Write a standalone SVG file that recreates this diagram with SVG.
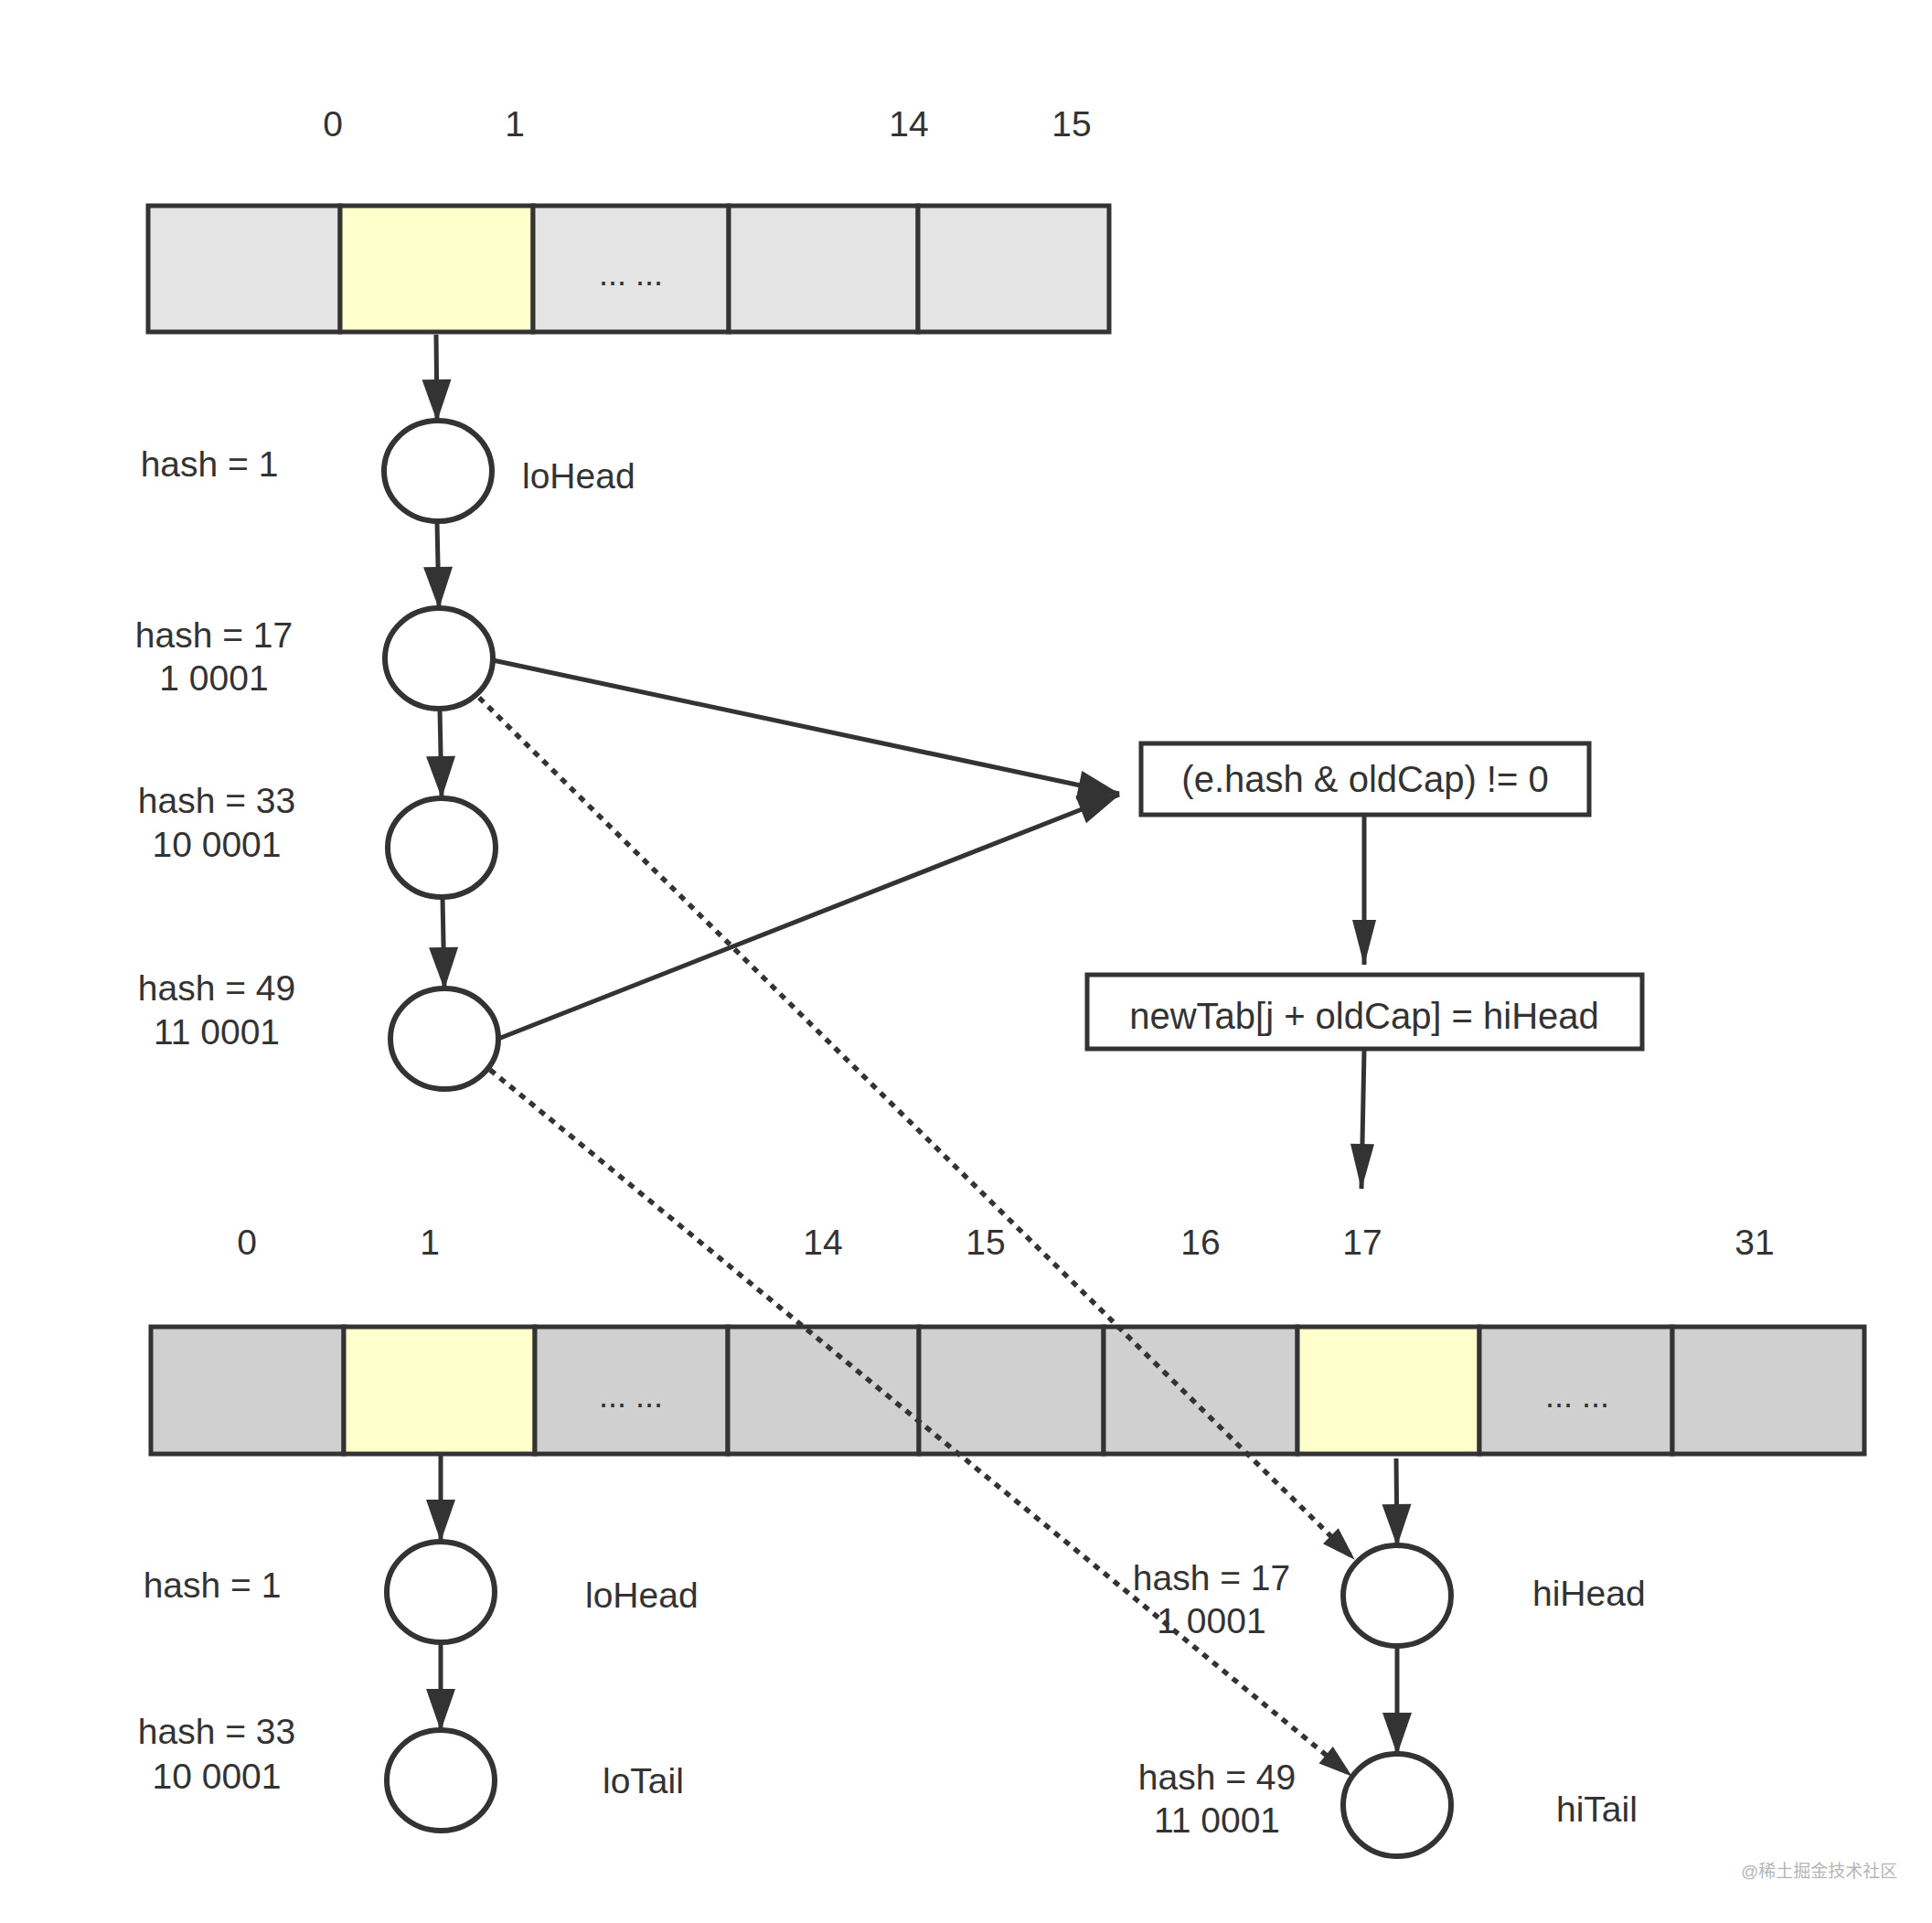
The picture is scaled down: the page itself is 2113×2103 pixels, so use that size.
<svg xmlns="http://www.w3.org/2000/svg" width="2113" height="2103" viewBox="0 0 2113 2103">
<style>
text{font-family:"Liberation Sans",Arial,"Noto Sans CJK SC",sans-serif;font-size:39px;fill:#333}
.c{text-anchor:middle}
.cell{stroke:#333;stroke-width:5}
.g1{fill:#e4e4e4}
.g2{fill:#d0d0d0}
.y{fill:#ffffcc}
.node{fill:#fff;stroke:#333;stroke-width:6}
.box{fill:#fff;stroke:#333;stroke-width:5}
.ln{stroke:#333;stroke-width:5;fill:none}
.dot{stroke:#333;stroke-width:5.5;fill:none;stroke-dasharray:7 7}
</style>
<defs>
<marker id="ah" markerUnits="userSpaceOnUse" markerWidth="48" markerHeight="34" refX="45" refY="16" orient="auto" overflow="visible">
<path d="M0,0 L46,16 L0,32 z" fill="#333"/>
</marker>
<marker id="ahs" markerUnits="userSpaceOnUse" markerWidth="52" markerHeight="30" refX="49" refY="13" orient="auto" overflow="visible">
<path d="M0,0 L50,13 L0,26 z" fill="#333"/>
</marker>
<marker id="ahd" markerUnits="userSpaceOnUse" markerWidth="40" markerHeight="28" refX="36" refY="12" orient="auto" overflow="visible">
<path d="M0,0 L37,12 L0,24 z" fill="#333"/>
</marker>
</defs>
<rect width="2113" height="2103" fill="#fff"/>

<g id="top-indices">
<text class="c" x="364" y="149">0</text>
<text class="c" x="563" y="149">1</text>
<text class="c" x="994" y="149">14</text>
<text class="c" x="1172" y="149">15</text>
</g>

<g id="old-table">
<rect class="cell g1" x="162" y="225" width="210" height="138"/>
<rect class="cell y" x="372" y="225" width="211" height="138"/>
<rect class="cell g1" x="583" y="225" width="214" height="138"/>
<rect class="cell g1" x="797" y="225" width="207" height="138"/>
<rect class="cell g1" x="1004" y="225" width="209" height="138"/>
<text class="c" x="690" y="312" style="font-size:36px">... ...</text>
</g>

<g id="old-node-1">
<ellipse class="node" cx="479" cy="515" rx="59" ry="55"/>
<text class="c" x="229" y="521">hash = 1</text>
<text x="571" y="534">loHead</text>
</g>
<g id="old-node-17">
<ellipse class="node" cx="480" cy="720" rx="59" ry="55"/>
<text class="c" x="234" y="708">hash = 17</text>
<text class="c" x="234" y="755">1 0001</text>
</g>
<g id="old-node-33">
<ellipse class="node" cx="483" cy="927" rx="59" ry="54"/>
<text class="c" x="237" y="889">hash = 33</text>
<text class="c" x="237" y="937">10 0001</text>
</g>
<g id="old-node-49">
<ellipse class="node" cx="486" cy="1136" rx="59" ry="55"/>
<text class="c" x="237" y="1094">hash = 49</text>
<text class="c" x="237" y="1142">11 0001</text>
</g>

<g id="condition-box">
<rect class="box" x="1248" y="813" width="490" height="78"/>
<text class="c" x="1493" y="866" style="font-size:40px">(e.hash &amp; oldCap) != 0</text>
</g>
<g id="assign-box">
<rect class="box" x="1189" y="1066" width="607" height="81"/>
<text class="c" x="1492" y="1125" style="font-size:40px">newTab[j + oldCap] = hiHead</text>
</g>

<g id="bottom-indices">
<text class="c" x="270" y="1372">0</text>
<text class="c" x="470" y="1372">1</text>
<text class="c" x="900" y="1372">14</text>
<text class="c" x="1078" y="1372">15</text>
<text class="c" x="1313" y="1372">16</text>
<text class="c" x="1490" y="1372">17</text>
<text class="c" x="1919" y="1372">31</text>
</g>

<g id="new-table">
<rect class="cell g2" x="165" y="1451" width="211" height="139"/>
<rect class="cell y" x="376" y="1451" width="209" height="139"/>
<rect class="cell g2" x="585" y="1451" width="211" height="139"/>
<rect class="cell g2" x="796" y="1451" width="209" height="139"/>
<rect class="cell g2" x="1005" y="1451" width="202" height="139"/>
<rect class="cell g2" x="1207" y="1451" width="212" height="139"/>
<rect class="cell y" x="1419" y="1451" width="199" height="139"/>
<rect class="cell g2" x="1618" y="1451" width="211" height="139"/>
<rect class="cell g2" x="1829" y="1451" width="210" height="139"/>
<text class="c" x="690" y="1539" style="font-size:36px">... ...</text>
<text class="c" x="1725" y="1539" style="font-size:36px">... ...</text>
</g>

<g id="new-lo-head">
<ellipse class="node" cx="482" cy="1741" rx="59" ry="55"/>
<text class="c" x="232" y="1747">hash = 1</text>
<text x="640" y="1758">loHead</text>
</g>
<g id="new-lo-tail">
<ellipse class="node" cx="482" cy="1947" rx="59" ry="55"/>
<text class="c" x="237" y="1907">hash = 33</text>
<text class="c" x="237" y="1956">10 0001</text>
<text x="659" y="1961">loTail</text>
</g>
<g id="new-hi-head">
<ellipse class="node" cx="1528" cy="1745" rx="59" ry="55"/>
<text class="c" x="1325" y="1739">hash = 17</text>
<text class="c" x="1325" y="1786">1 0001</text>
<text x="1676" y="1756">hiHead</text>
</g>
<g id="new-hi-tail">
<ellipse class="node" cx="1528" cy="1974" rx="59" ry="56"/>
<text class="c" x="1331" y="1957">hash = 49</text>
<text class="c" x="1331" y="2004">11 0001</text>
<text x="1702" y="1992">hiTail</text>
</g>

<g id="connectors">
<line class="ln" x1="477" y1="366" x2="478" y2="460" marker-end="url(#ah)"/>
<line class="ln" x1="478" y1="571" x2="480" y2="665" marker-end="url(#ah)"/>
<line class="ln" x1="481" y1="776" x2="483" y2="872" marker-end="url(#ah)"/>
<line class="ln" x1="484" y1="982" x2="486" y2="1081" marker-end="url(#ah)"/>
<line class="ln" x1="539" y1="722" x2="1224" y2="868" marker-end="url(#ah)"/>
<line class="ln" x1="545" y1="1136" x2="1224" y2="869" marker-end="url(#ah)"/>
<line class="ln" x1="1492" y1="892" x2="1492" y2="1055" marker-end="url(#ahs)"/>
<line class="ln" x1="1492" y1="1148" x2="1489" y2="1300" marker-end="url(#ahs)"/>
<line class="dot" x1="524" y1="763" x2="1481" y2="1705" marker-end="url(#ahd)"/>
<line class="dot" x1="536" y1="1170" x2="1478" y2="1942" marker-end="url(#ahd)"/>
<line class="ln" x1="482" y1="1592" x2="482" y2="1685" marker-end="url(#ah)"/>
<line class="ln" x1="482" y1="1797" x2="482" y2="1892" marker-end="url(#ah)"/>
<line class="ln" x1="1527" y1="1595" x2="1528" y2="1690" marker-end="url(#ah)"/>
<line class="ln" x1="1528" y1="1802" x2="1528" y2="1918" marker-end="url(#ah)"/>
</g>

<text x="1904" y="2053" style="font-size:19px;fill:#b5b5b5">@稀土掘金技术社区</text>
</svg>
